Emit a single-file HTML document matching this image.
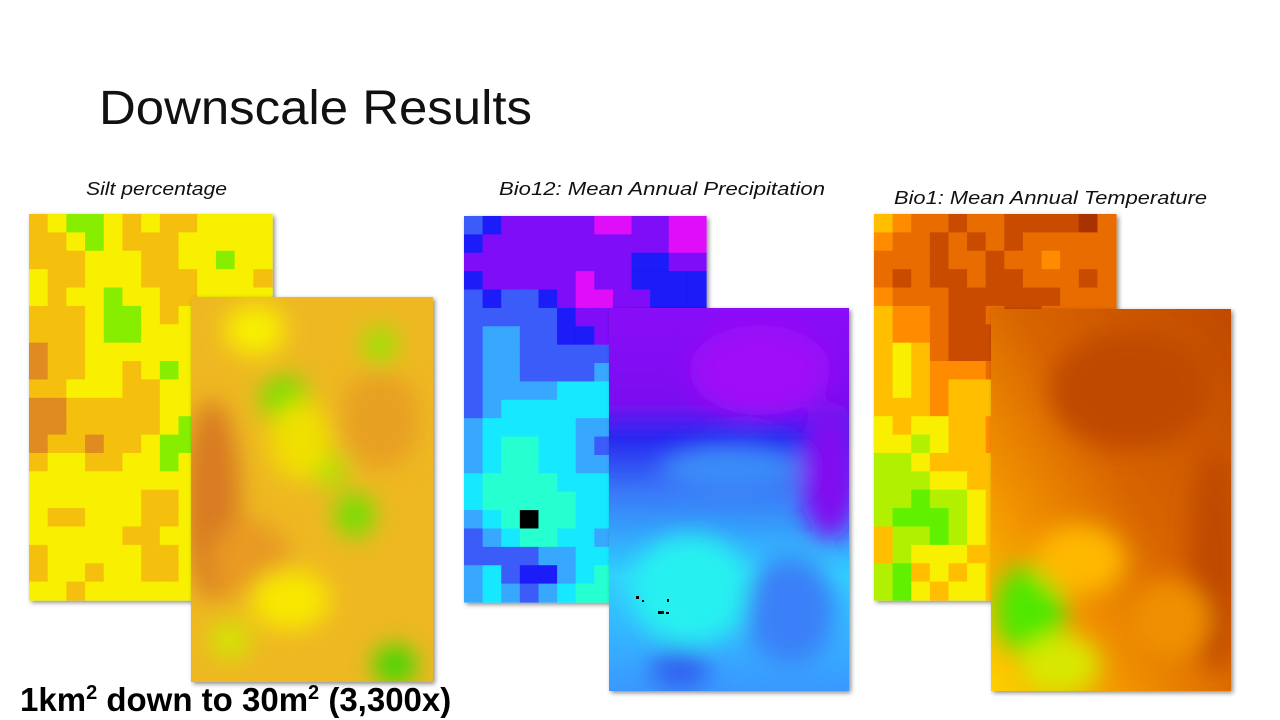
<!DOCTYPE html>
<html><head><meta charset="utf-8">
<style>
html,body{margin:0;padding:0;background:#fff;width:1280px;height:720px;overflow:hidden}
svg{display:block}
</style></head>
<body>
<svg id="slide" width="1280" height="720" viewBox="0 0 1280 720" xmlns="http://www.w3.org/2000/svg">
<defs>
  <filter id="blur" x="-50%" y="-50%" width="200%" height="200%"><feGaussianBlur stdDeviation="12"/></filter>
  <filter id="shadow" x="-10%" y="-10%" width="130%" height="130%"><feDropShadow dx="2" dy="2" stdDeviation="2.5" flood-color="#000" flood-opacity="0.45"/></filter>
  <clipPath id="clipSilt"><rect x="191" y="297" width="242" height="385"/></clipPath>
  <clipPath id="clipPrec"><rect x="609" y="308" width="240" height="383"/></clipPath>
  <clipPath id="clipTemp"><rect x="991" y="309" width="240" height="382"/></clipPath>
  <linearGradient id="precGrad" x1="0" y1="0" x2="0" y2="1">
    <stop offset="0" stop-color="#8a10f8"/><stop offset="0.25" stop-color="#7a10f0"/>
    <stop offset="0.34" stop-color="#2828f0"/><stop offset="0.48" stop-color="#3a78f8"/>
    <stop offset="0.7" stop-color="#30d0ff"/><stop offset="1" stop-color="#3a98ff"/>
  </linearGradient>
  <linearGradient id="tempGrad" x1="1" y1="0" x2="0" y2="1">
    <stop offset="0" stop-color="#c04a00"/><stop offset="0.45" stop-color="#d86400"/>
    <stop offset="0.7" stop-color="#f09000"/><stop offset="1" stop-color="#ffd000"/>
  </linearGradient>
</defs>

<text x="99" y="124" font-family="Liberation Sans, sans-serif" font-size="48" fill="#111" textLength="433" lengthAdjust="spacingAndGlyphs">Downscale Results</text>
<text x="86" y="195" font-family="Liberation Sans, sans-serif" font-style="italic" font-size="18" fill="#111" textLength="141" lengthAdjust="spacingAndGlyphs">Silt percentage</text>
<text x="499" y="195" font-family="Liberation Sans, sans-serif" font-style="italic" font-size="18" fill="#111" textLength="326" lengthAdjust="spacingAndGlyphs">Bio12: Mean Annual Precipitation</text>
<text x="894" y="204" font-family="Liberation Sans, sans-serif" font-style="italic" font-size="18" fill="#111" textLength="313" lengthAdjust="spacingAndGlyphs">Bio1: Mean Annual Temperature</text>

<g id="siltCoarse" filter="url(#shadow)"></g>
<g id="precCoarse" filter="url(#shadow)"></g>
<g id="tempCoarse" filter="url(#shadow)"></g>

<g>
  <rect x="191" y="297" width="242" height="385" fill="#eeb820" filter="url(#shadow)"/>
  <g clip-path="url(#clipSilt)"><g filter="url(#blur)">
    <ellipse cx="212" cy="500" rx="28" ry="100" fill="#d87a20"/>
    <ellipse cx="250" cy="560" rx="40" ry="40" fill="#e89a20"/>
    <ellipse cx="380" cy="420" rx="40" ry="50" fill="#e8a020"/>
    <ellipse cx="285" cy="400" rx="24" ry="24" fill="#70e000"/>
    <ellipse cx="380" cy="345" rx="16" ry="18" fill="#90e800"/>
    <ellipse cx="330" cy="470" rx="16" ry="16" fill="#a0e800"/>
    <ellipse cx="355" cy="515" rx="20" ry="22" fill="#70e000"/>
    <ellipse cx="255" cy="330" rx="30" ry="25" fill="#f8f000"/>
    <ellipse cx="300" cy="440" rx="30" ry="40" fill="#f0e000"/>
    <ellipse cx="290" cy="600" rx="40" ry="30" fill="#f8e800"/>
    <ellipse cx="395" cy="665" rx="22" ry="20" fill="#40d800"/>
    <ellipse cx="230" cy="640" rx="20" ry="18" fill="#d0e800"/>
  </g></g>
</g>

<g>
  <rect x="609" y="308" width="240" height="383" fill="url(#precGrad)" filter="url(#shadow)"/>
  <g clip-path="url(#clipPrec)"><g filter="url(#blur)">
    <ellipse cx="760" cy="370" rx="70" ry="45" fill="#a010f8"/>
    <ellipse cx="830" cy="470" rx="30" ry="70" fill="#8010f0"/>
    <ellipse cx="690" cy="590" rx="60" ry="55" fill="#28f0f0"/>
    <ellipse cx="790" cy="610" rx="45" ry="55" fill="#3a80f8"/>
    <ellipse cx="680" cy="670" rx="30" ry="20" fill="#3060f0"/>
    <ellipse cx="730" cy="470" rx="70" ry="25" fill="#3a8cf8"/>
  </g></g>
  <g fill="#000">
    <rect x="636" y="596" width="3" height="3"/><rect x="642" y="600" width="2" height="2"/>
    <rect x="658" y="611" width="6" height="3"/><rect x="666" y="612" width="3" height="2"/>
    <rect x="667" y="599" width="2" height="3"/>
  </g>
</g>

<g>
  <rect x="991" y="309" width="240" height="382" fill="url(#tempGrad)" filter="url(#shadow)"/>
  <g clip-path="url(#clipTemp)"><g filter="url(#blur)">
    <ellipse cx="1130" cy="390" rx="80" ry="60" fill="#c04a00"/>
    <ellipse cx="1215" cy="560" rx="25" ry="110" fill="#c04a00"/>
    <ellipse cx="1030" cy="610" rx="35" ry="45" fill="#50e800"/>
    <ellipse cx="1060" cy="665" rx="40" ry="30" fill="#d8e800"/>
    <ellipse cx="1080" cy="560" rx="45" ry="35" fill="#ffb800"/>
    <ellipse cx="1170" cy="620" rx="40" ry="40" fill="#f09000"/>
  </g></g>
</g>

<text x="20" y="711" font-family="Liberation Sans, sans-serif" font-weight="bold" font-size="33" fill="#000">1km<tspan dy="-12" font-size="20">2</tspan><tspan dy="12"> down to 30m</tspan><tspan dy="-12" font-size="20">2</tspan><tspan dy="12"> (3,300x)</tspan></text>
</svg>

<script>
// Coarse 1km grid class values (rows top→bottom, 13 columns)
const siltRows = [
"2100121221111","2210122211111","2221112211011","1221112221112",
"1211011221111","2221001211111","2221001111111","3221111111111",
"3221121011111","2211122111111","3322222111111","3322222101111",
"3223221001111","2112211011111","1111111111111","1111112211111",
"1221112211111","1111122111111","2111112211111","2112112211111",
"1121111111111"];
const siltColors = ["#88ee00","#f8f000","#f4c010","#e08a20"];

const precRows = [
"3211111001100","2111111111100","1111111112211","2111110112222",
"3233210011222","3333321112222","3443322111222","3443333333222",
"3443333433222","3444455543222","3455555553222","4555554433222",
"4566554333222","4566554433222","5666655543222","5666665543222",
"4567665543222","3456655433222","3333445543222","4532245633222",
"4543456633222"];
const precColors = ["#e010f8","#8010f8","#1a1af8","#3a5cf8","#38a8ff","#18e8ff","#28ffd0","#000000"];

const tempRows = [
"3455655666675","4556565655555","5556556554555","5656656655565",
"4555666666555","3445665665555","3445666555555","3235666555555",
"3234445555555","3234333555555","3334333555555","2322334555555",
"2212334555555","1123333555555","1112233555555","1101123555555",
"1000123555555","3110123555555","3122233555555","1032323555555",
"1023223555555"];
const tempColors = ["#60f000","#b0f000","#f8f000","#ffbf00","#ff8c00","#e86c00","#c84c00","#a83000"];

function drawGrid(id, rows, colors, x0, y0, w, h) {
  const g = document.getElementById(id);
  const nr = rows.length, nc = rows[0].length;
  const cw = w / nc, ch = h / nr;
  for (let r = 0; r < nr; r++) {
    for (let c = 0; c < nc; c++) {
      const v = +rows[r][c];
      const rect = document.createElementNS("http://www.w3.org/2000/svg", "rect");
      rect.setAttribute("x", (x0 + c * cw).toFixed(2));
      rect.setAttribute("y", (y0 + r * ch).toFixed(2));
      rect.setAttribute("width", (cw + 0.6).toFixed(2));
      rect.setAttribute("height", (ch + 0.6).toFixed(2));
      rect.setAttribute("fill", colors[v]);
      
      
      g.appendChild(rect);
    }
  }
}
drawGrid("siltCoarse", siltRows, siltColors, 29, 214, 243, 386);
drawGrid("precCoarse", precRows, precColors, 464, 216, 242, 386);
drawGrid("tempCoarse", tempRows, tempColors, 874, 214, 242, 386);
</script>
</body></html>
